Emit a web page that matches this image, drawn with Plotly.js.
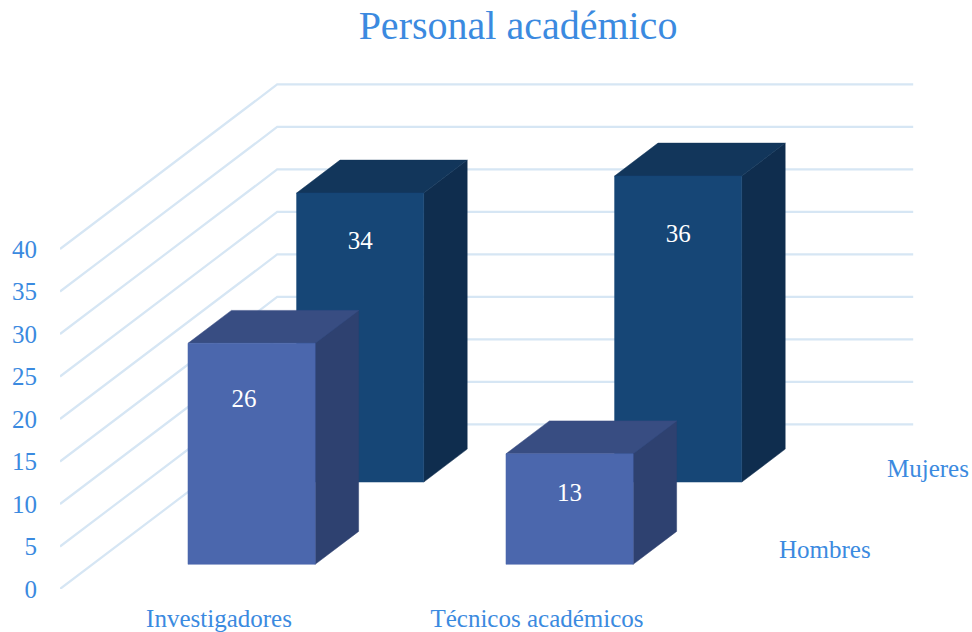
<!DOCTYPE html>
<html>
<head>
<meta charset="utf-8">
<script src="https://cdn.plot.ly/plotly-3.0.1.min.js"></script>
<style>html,body{margin:0;padding:0;background:#fff}</style>
</head>
<body>
<div id="chart" style="width:972px;height:632px"></div>
<script>
const categories = ["Investigadores", "Técnicos académicos"];
const hombres = [26, 13];
const mujeres = [34, 36];
const seriesNames = ["Hombres", "Mujeres"];
const valueTicks = [0, 5, 10, 15, 20, 25, 30, 35, 40];
// how far below the bar top each value label sits, in value units
const labelDropHombres = [6.7, 4.8];
const labelDropMujeres = [5.8, 7.0];
// sideways nudge of each value label, in category units
const labelNudgeHombres = [-0.024, 0];
const labelNudgeMujeres = [0, 0];

// oblique projection of the depth axis onto the flat axes
const DEPTH_X = 0.683, DEPTH_Y = 19.36;
const BAR_W = 0.4, BAR_D = 0.2;
const SLOT = [0.25, 0.75];
const px = (c, d) => c + d * DEPTH_X;
const py = (v, d) => v + d * DEPTH_Y;

const traces = [];
// walls
const gx = [], gy = [];
valueTicks.forEach(v => {
  gx.push(px(-0.5, 0), px(-0.5, 1), px(1.5, 1), null);
  gy.push(py(v, 0), py(v, 1), py(v, 1), null);
});
traces.push({type:"scatter", mode:"lines", x:gx, y:gy, cliponaxis:false,
  line:{color:"#d6e6f4", width:2.2}, hoverinfo:"skip", showlegend:false});

function poly(xs, ys, color) {
  traces.push({type:"scatter", mode:"lines", x:xs, y:ys, fill:"toself", fillcolor:color,
    line:{color:color, width:0.5}, hoverinfo:"skip", showlegend:false});
}
function bar(c, v, slot, front, side, top) {
  const d0 = slot - BAR_D / 2, d1 = slot + BAR_D / 2;
  const l = c - BAR_W / 2, r = c + BAR_W / 2;
  poly([px(r,d0),px(r,d1),px(r,d1),px(r,d0),px(r,d0)], [py(0,d0),py(0,d1),py(v,d1),py(v,d0),py(0,d0)], side);
  poly([px(l,d0),px(l,d1),px(r,d1),px(r,d0),px(l,d0)], [py(v,d0),py(v,d1),py(v,d1),py(v,d0),py(v,d0)], top);
  poly([px(l,d0),px(r,d0),px(r,d0),px(l,d0),px(l,d0)], [py(0,d0),py(0,d0),py(v,d0),py(v,d0),py(0,d0)], front);
}
const cats = categories.map((_, i) => i);
cats.forEach(c => bar(c, mujeres[c], SLOT[1], "#164676", "#0f2d4e", "#12365b"));
cats.forEach(c => bar(c, hombres[c], SLOT[0], "#4b67ad", "#2e4170", "#384d82"));

function labels(vals, drops, nudges, slot) {
  const d0 = slot - BAR_D / 2;
  traces.push({type:"scatter", mode:"text",
    x: cats.map(c => px(c, d0) + nudges[c]),
    y: vals.map((v, i) => py(v - drops[i], d0)),
    text: vals.map(String), textposition:"middle center",
    textfont:{family:"Liberation Serif", size:25, color:"#ffffff"},
    hoverinfo:"skip", showlegend:false});
}
labels(mujeres, labelDropMujeres, labelNudgeMujeres, SLOT[1]);
labels(hombres, labelDropHombres, labelNudgeHombres, SLOT[0]);

const textBlue = "#3b8ae0";
const font = {family:"Liberation Serif", size:25, color:textBlue};
const layout = {
  width:972, height:632,
  margin:{l:60, r:55, t:75, b:43, pad:0},
  paper_bgcolor:"#ffffff", plot_bgcolor:"#ffffff",
  showlegend:false,
  title:{text:"Personal académico", font:{family:"Liberation Serif", size:40, color:textBlue},
    x:518/972, xanchor:"center", y:0.961, yanchor:"middle"},
  xaxis:{range:[-0.5, 857/318 - 0.5], tickvals:cats, ticktext:categories, showgrid:false, zeroline:false,
    showline:false, ticks:"outside", ticklen:7, tickcolor:"rgba(0,0,0,0)",
    tickfont:{family:"Liberation Serif", size:25, color:textBlue}, fixedrange:true},
  yaxis:{range:[0, 514/8.5], tickvals:valueTicks, ticktext:valueTicks.map(String), showgrid:false, zeroline:false,
    showline:false, ticks:"outside", ticklen:17, tickcolor:"rgba(0,0,0,0)", tickfont:font, fixedrange:true},
  annotations:[
    {text:seriesNames[0], xref:"paper", yref:"y", x:(825-60)/857, y:(589-549)/8.5, showarrow:false, font:font, xanchor:"center", yanchor:"middle"},
    {text:seriesNames[1], xref:"paper", yref:"y", x:(928-60)/857, y:(589-468)/8.5, showarrow:false, font:font, xanchor:"center", yanchor:"middle"}
  ]
};
Plotly.newPlot("chart", traces, layout, {displayModeBar:false, staticPlot:true});
</script>
</body>
</html>
